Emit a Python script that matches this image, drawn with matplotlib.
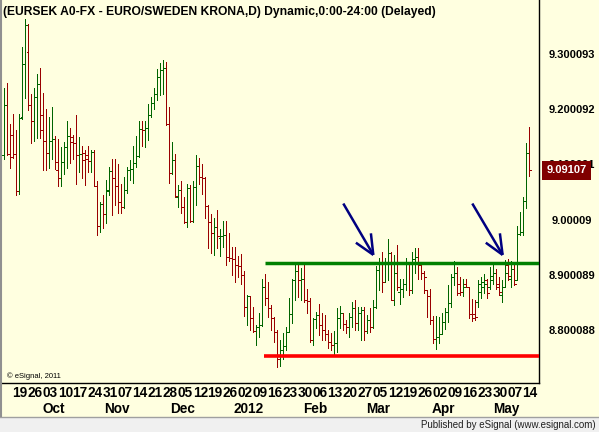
import numpy as np
import pandas as pd
from matplotlib import pyplot as plt
from matplotlib.patches import Rectangle
from matplotlib.lines import Line2D

plt.rcParams['font.family'] = ['Liberation Sans', 'DejaVu Sans']

# daily EUR/SEK bars, 12 Sep 2011 - 14 May 2012
opens = [9.119, 9.209, 9.120, 9.155, 9.120, 9.054, 9.188, 9.283, 9.305, 9.209,
         9.181, 9.224, 9.247, 9.165, 9.144, 9.122, 9.145, 9.148, 9.091, 9.077,
         9.107, 9.133, 9.153, 9.151, 9.140, 9.119, 9.120, 9.122, 9.118, 9.108,
         9.124, 9.063, 8.990, 9.030, 9.012, 9.054, 9.090, 9.078, 9.063, 9.033,
         9.024, 9.055, 9.092, 9.094, 9.104, 9.117, 9.166, 9.164, 9.167, 9.191,
         9.214, 9.229, 9.261, 9.273, 9.276, 9.175, 9.087, 9.110, 9.043, 9.055,
         9.025, 8.998, 9.059, 8.999, 9.061, 9.099, 9.079, 9.078, 9.027, 8.997,
         8.977, 8.989, 8.968, 8.972, 8.974, 8.934, 8.933, 8.930, 8.920, 8.918,
         8.901, 8.844, 8.864, 8.824, 8.800, 8.808, 8.811, 8.879, 8.859, 8.842,
         8.824, 8.799, 8.750, 8.766, 8.773, 8.799, 8.831, 8.892, 8.909, 8.892,
         8.895, 8.856, 8.854, 8.783, 8.822, 8.829, 8.811, 8.802, 8.795, 8.780,
         8.774, 8.778, 8.823, 8.832, 8.812, 8.808, 8.826, 8.841, 8.815, 8.832,
         8.838, 8.800, 8.820, 8.808, 8.844, 8.911, 8.923, 8.889, 8.923, 8.941,
         8.857, 8.923, 8.870, 8.877, 8.886, 8.923, 8.874, 8.930, 8.935, 8.920,
         8.905, 8.874, 8.864, 8.820, 8.786, 8.790, 8.795, 8.817, 8.834, 8.851,
         8.898, 8.906, 8.885, 8.870, 8.886, 8.880, 8.830, 8.830, 8.853, 8.870,
         8.880, 8.892, 8.880, 8.892, 8.906, 8.886, 8.865, 8.880, 8.920, 8.895,
         8.912, 8.892, 8.975, 8.980, 9.036, 9.122]
highs = [9.240, 9.249, 9.175, 9.193, 9.164, 9.194, 9.314, 9.365, 9.357, 9.229,
         9.240, 9.265, 9.277, 9.231, 9.202, 9.188, 9.206, 9.153, 9.147, 9.133,
         9.143, 9.180, 9.167, 9.155, 9.191, 9.151, 9.136, 9.128, 9.136, 9.128,
         9.128, 9.071, 9.034, 9.047, 9.073, 9.098, 9.111, 9.111, 9.102, 9.067,
         9.079, 9.098, 9.110, 9.135, 9.153, 9.180, 9.180, 9.180, 9.211, 9.224,
         9.241, 9.275, 9.285, 9.291, 9.287, 9.205, 9.142, 9.121, 9.064, 9.072,
         9.043, 9.066, 9.065, 9.072, 9.119, 9.113, 9.102, 9.079, 9.028, 9.012,
         9.004, 9.019, 8.985, 9.000, 9.000, 8.977, 8.953, 8.953, 8.936, 8.940,
         8.909, 8.865, 8.864, 8.844, 8.811, 8.832, 8.894, 8.903, 8.888, 8.847,
         8.826, 8.802, 8.784, 8.796, 8.808, 8.859, 8.895, 8.923, 8.920, 8.914,
         8.920, 8.877, 8.859, 8.823, 8.835, 8.849, 8.832, 8.829, 8.802, 8.796,
         8.800, 8.841, 8.846, 8.832, 8.820, 8.832, 8.853, 8.856, 8.844, 8.844,
         8.844, 8.829, 8.841, 8.856, 8.917, 8.932, 8.944, 8.932, 8.966, 8.944,
         8.937, 8.956, 8.895, 8.895, 8.932, 8.923, 8.944, 8.950, 8.950, 8.923,
         8.908, 8.874, 8.876, 8.827, 8.827, 8.826, 8.833, 8.841, 8.883, 8.904,
         8.926, 8.916, 8.898, 8.894, 8.894, 8.880, 8.858, 8.856, 8.892, 8.898,
         8.904, 8.894, 8.916, 8.921, 8.913, 8.898, 8.892, 8.929, 8.930, 8.926,
         8.921, 8.990, 9.016, 9.043, 9.141, 9.170]
lows = [9.111, 9.119, 9.095, 9.113, 9.047, 9.048, 9.185, 9.223, 9.200, 9.140,
        9.145, 9.149, 9.149, 9.091, 9.091, 9.095, 9.111, 9.093, 9.063, 9.063,
        9.084, 9.095, 9.104, 9.112, 9.066, 9.088, 9.078, 9.065, 9.088, 9.088,
        9.063, 8.974, 8.980, 8.986, 8.995, 9.046, 9.011, 9.028, 9.014, 9.014,
        9.022, 9.050, 9.073, 9.069, 9.098, 9.115, 9.135, 9.134, 9.146, 9.188,
        9.202, 9.218, 9.227, 9.229, 9.173, 9.069, 9.085, 9.043, 9.024, 9.013,
        8.995, 8.988, 8.998, 8.998, 9.029, 9.067, 9.048, 9.005, 8.950, 8.941,
        8.938, 8.950, 8.936, 8.953, 8.920, 8.926, 8.901, 8.889, 8.897, 8.885,
        8.828, 8.811, 8.802, 8.799, 8.775, 8.790, 8.809, 8.847, 8.826, 8.802,
        8.781, 8.735, 8.737, 8.750, 8.766, 8.798, 8.815, 8.856, 8.862, 8.856,
        8.853, 8.832, 8.781, 8.775, 8.805, 8.793, 8.784, 8.784, 8.770, 8.765,
        8.757, 8.762, 8.805, 8.802, 8.796, 8.790, 8.808, 8.802, 8.802, 8.784,
        8.784, 8.796, 8.799, 8.805, 8.841, 8.874, 8.871, 8.889, 8.892, 8.856,
        8.847, 8.874, 8.849, 8.862, 8.874, 8.866, 8.868, 8.905, 8.895, 8.894,
        8.868, 8.826, 8.812, 8.779, 8.768, 8.779, 8.795, 8.803, 8.817, 8.844,
        8.884, 8.865, 8.865, 8.863, 8.880, 8.824, 8.818, 8.820, 8.844, 8.859,
        8.868, 8.859, 8.877, 8.886, 8.877, 8.865, 8.853, 8.880, 8.892, 8.880,
        8.884, 8.892, 8.974, 8.974, 9.023, 9.080]
closes = [9.209, 9.120, 9.115, 9.120, 9.054, 9.186, 9.283, 9.354, 9.209, 9.181,
          9.224, 9.247, 9.191, 9.144, 9.122, 9.145, 9.148, 9.107, 9.077, 9.107,
          9.133, 9.153, 9.142, 9.140, 9.119, 9.120, 9.109, 9.112, 9.108, 9.124,
          9.063, 8.990, 9.030, 9.012, 9.056, 9.090, 9.078, 9.063, 9.033, 9.024,
          9.055, 9.092, 9.094, 9.104, 9.117, 9.166, 9.164, 9.167, 9.191, 9.214,
          9.229, 9.261, 9.273, 9.276, 9.175, 9.087, 9.110, 9.044, 9.055, 9.025,
          8.998, 9.059, 8.999, 9.061, 9.099, 9.079, 9.078, 9.027, 8.997, 8.977,
          8.989, 8.972, 8.972, 8.974, 8.934, 8.933, 8.930, 8.920, 8.918, 8.901,
          8.844, 8.864, 8.824, 8.800, 8.808, 8.811, 8.879, 8.859, 8.842, 8.824,
          8.799, 8.750, 8.766, 8.773, 8.799, 8.831, 8.892, 8.909, 8.892, 8.895,
          8.856, 8.854, 8.783, 8.822, 8.829, 8.811, 8.802, 8.795, 8.780, 8.774,
          8.778, 8.823, 8.832, 8.812, 8.808, 8.826, 8.841, 8.815, 8.832, 8.838,
          8.800, 8.820, 8.808, 8.844, 8.911, 8.923, 8.889, 8.923, 8.941, 8.857,
          8.905, 8.880, 8.877, 8.886, 8.923, 8.874, 8.930, 8.935, 8.920, 8.905,
          8.898, 8.864, 8.820, 8.786, 8.790, 8.795, 8.817, 8.834, 8.851, 8.898,
          8.906, 8.868, 8.870, 8.880, 8.880, 8.830, 8.823, 8.826, 8.886, 8.888,
          8.886, 8.868, 8.900, 8.906, 8.880, 8.870, 8.880, 8.906, 8.900, 8.912,
          8.886, 8.975, 8.980, 9.036, 9.122, 9.09107]

price_labels = ['9.300093', '9.200092', '9.100091', '9.00009', '8.900089', '8.800088']
month_labels = ['Oct', 'Nov', 'Dec', '2012', 'Feb', 'Mar', 'Apr', 'May']

resistance = 8.923
support = 8.755
lines_start = [87.0, 86.5]  # bar index where the drawn lines begin

# hand drawn arrows (bar index, price)
arrow_tails = [(113.0, 9.031), (156.0, 9.031)]
arrow_tips = [(123.0, 8.938), (166.1, 8.938)]
arrow_barbs = [[(117.2, 8.960), (122.2, 8.977)], [(160.5, 8.960), (165.2, 8.977)]]

dates = pd.bdate_range('2011-09-12', '2012-05-14')
n = len(closes)
x = np.arange(n)
o = np.array(opens)
c = np.array(closes)
cols = np.where(c >= o, '#006400', '#990000')

bg = '#FFFFE0'
fig = plt.figure(figsize=(5.99, 4.32), dpi=100, facecolor=bg)
W, H = 599, 432
ax = fig.add_axes([2 / W, (H - 383) / H, 537 / W, 383 / H])
ax.set_facecolor(bg)
ax.set_xlim((2 - 4.3) / 3, (539 - 4.3) / 3)
ax.set_ylim(9.3997 - 383 / 552, 9.3997)

ax.vlines(x, lows, highs, colors=cols, lw=0.65, antialiased=False)
ax.hlines(opens, x - 0.6, x, colors=cols, lw=0.65, antialiased=False)
ax.hlines(closes, x, x + 0.65, colors=cols, lw=0.65, antialiased=False)

xr = ax.get_xlim()[1]
ax.hlines(resistance, lines_start[0], xr, colors='#008000', lw=2.5, zorder=3)
ax.hlines(support, lines_start[1], xr, colors='#FF0000', lw=2.6, zorder=3)

for tail, tip, barbs in zip(arrow_tails, arrow_tips, arrow_barbs):
    ax.plot([tail[0], tip[0]], [tail[1], tip[1]], color='#000080', lw=1.8,
            solid_capstyle='butt', zorder=4)
    for b in barbs:
        ax.plot([b[0], tip[0]], [b[1], tip[1]], color='#000080', lw=1.8,
                solid_capstyle='butt', zorder=4)

for s in ['top', 'left']:
    ax.spines[s].set_visible(False)
for s in ['right', 'bottom']:
    ax.spines[s].set_color('black')
    ax.spines[s].set_linewidth(1.0)
ax.set_xticks([])
ax.set_yticks([])

# right price scale
ytr = ax.get_yaxis_transform()
for lab in price_labels:
    ax.text(1 + (572 - 539) / 537, float(lab), lab, transform=ytr, ha='center',
            va='center', fontsize=8.0, fontweight='bold', clip_on=False)
ax.text(1 + (566.5 - 539) / 537, closes[-1], '%.5f' % closes[-1], transform=ytr,
        ha='center', va='center', fontsize=8.0, fontweight='bold', color='white',
        clip_on=False, zorder=5,
        bbox=dict(boxstyle='square,pad=0.38', fc='#800000', ec='none'))

# date scale
xtr = ax.get_xaxis_transform()
for i, d in enumerate(dates):
    if d.weekday() == 0 and i >= 5:
        ax.text(i + 0.3, -10 / 383, '%02d' % d.day, transform=xtr, ha='center',
                va='center', fontsize=9.8, fontweight='bold', clip_on=False)
firsts = [i for i in range(1, n) if dates[i].month != dates[i - 1].month]
for i, lab in zip(firsts, month_labels):
    ax.text(i + 1.5, -26 / 383, lab, transform=xtr, ha='center', va='center',
            fontsize=9.8, fontweight='bold', clip_on=False)

fig.text(3 / W, 1 - 12 / H, '(EURSEK A0-FX - EURO/SWEDEN KRONA,D) Dynamic,0:00-24:00 (Delayed)',
         ha='left', va='center', fontsize=8.7, fontweight='bold')
ax.text(5 / 537, 7 / 383, '\u00a9 eSignal, 2011', transform=ax.transAxes,
        ha='left', va='center', fontsize=5.5)

# bottom status strip and left border
fig.patches.append(Rectangle((0, 0), 1, 15 / H, transform=fig.transFigure,
                             fc='#F0F0F0', ec='none'))
fig.lines.append(Line2D([0, 1], [15.5 / H, 15.5 / H], transform=fig.transFigure,
                        color='#A0A0A0', lw=1))
fig.lines.append(Line2D([0.5 / W, 0.5 / W], [16 / H, 1], transform=fig.transFigure,
                        color='#909090', lw=1.5))
fig.text(596 / W, 7.5 / H, 'Published by eSignal (www.esignal.com)', ha='right',
         va='center', fontsize=7, color='#202020')

plt.savefig('out.png', dpi=100, facecolor=bg)
